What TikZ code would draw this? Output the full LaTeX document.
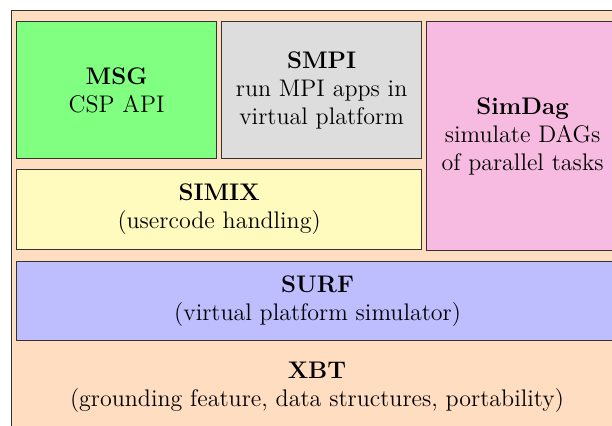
\documentclass[tikz,border=0pt]{standalone}
\usetikzlibrary{positioning}
\definecolor{xbtcol}{RGB}{255,221,192}
\definecolor{msgcol}{RGB}{128,255,128}
\definecolor{smpicol}{RGB}{221,221,221}
\definecolor{simdagcol}{RGB}{247,187,225}
\definecolor{simixcol}{RGB}{255,250,190}
\definecolor{surfcol}{RGB}{190,190,255}
\tikzstyle{layer}=[draw=black!80,line width=0.6pt,anchor=north west,inner sep=0pt,align=center,font=\large]
\tikzstyle{caption}=[align=center,font=\large,inner sep=0pt]

\begin{document}
\begin{tikzpicture}[x=0.5pt,y=-0.5pt]
  \useasboundingbox (0,0) rectangle (612,425);
  \clip (0,0) rectangle (612,425);

  % The ground layer, cut by the page
  \node[layer,fill=xbtcol,minimum width=306pt,minimum height=215pt] (xbt) at (11,10) {};
  \node[caption] (xbt-text) at (317,387) {\textbf{XBT}\\(grounding feature, data structures, portability)};

  % Upper layers
  \node[layer,fill=msgcol,minimum width=100pt,minimum height=68.5pt] (msg) at (16,21)
    {\textbf{MSG}\\CSP API};
  \node[layer,fill=smpicol,minimum width=100pt,minimum height=68.5pt] (smpi) at (221,21)
    {\textbf{SMPI}\\run MPI apps in\\virtual platform};
  \node[layer,fill=simdagcol,minimum width=96pt,minimum height=114.5pt] (simdag) at (426,21)
    {\textbf{SimDag}\\simulate DAGs\\of parallel tasks};
  \node[layer,fill=simixcol,minimum width=202.5pt,minimum height=40pt] (simix) at (16,169)
    {\textbf{SIMIX}\\(usercode handling)};
  \node[layer,fill=surfcol,minimum width=301pt,minimum height=39.5pt] (surf) at (16,261)
    {\textbf{SURF}\\(virtual platform simulator)};
\end{tikzpicture}
\end{document}
